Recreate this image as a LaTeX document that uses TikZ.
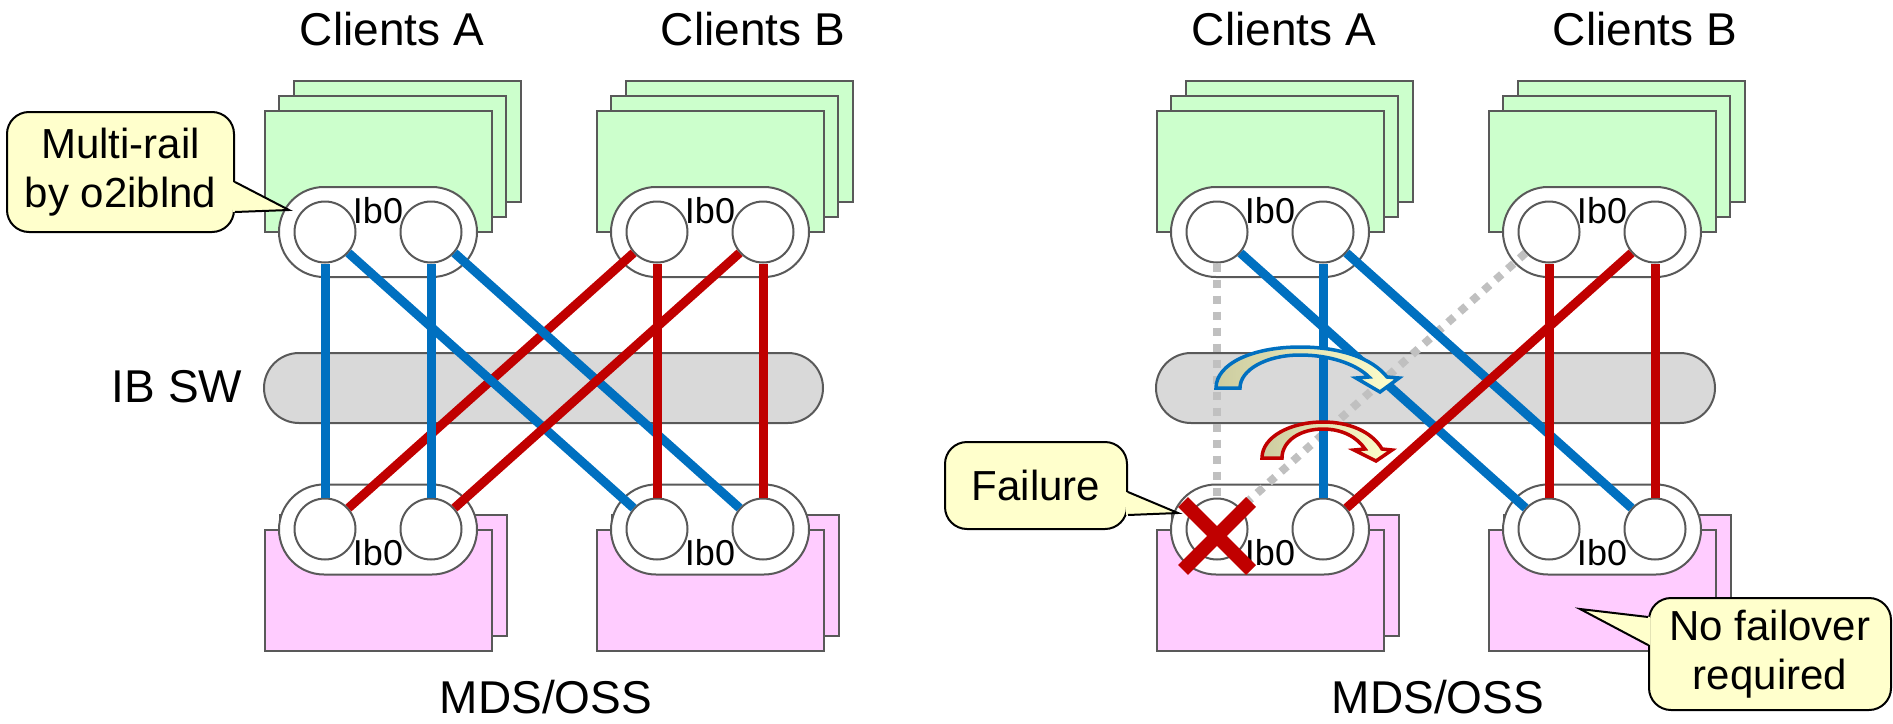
\documentclass[tikz,border=0pt]{standalone}
\usepackage{fontspec}
\setmainfont{Liberation Sans}
\definecolor{clientgreen}{HTML}{CCFFCC}
\definecolor{serverpink}{HTML}{FFCCFF}
\definecolor{edgegray}{HTML}{595959}
\definecolor{swgray}{HTML}{D9D9D9}
\definecolor{linkblue}{HTML}{0070C0}
\definecolor{linkred}{HTML}{C00000}
\definecolor{dotgray}{HTML}{C0C0C0}
\definecolor{noteyellow}{HTML}{FFFFCC}
\definecolor{arctan}{HTML}{CCCCA0}

\begin{document}
\begin{tikzpicture}[x=1pt, y=-1pt,
  box/.style={draw=edgegray, line width=2, minimum width=227, minimum height=121},
  client/.style={box, fill=clientgreen},
  server/.style={box, fill=serverpink},
  nic/.style={draw=edgegray, fill=white, line width=2, rounded corners=45, minimum width=198, minimum height=90},
  port/.style={circle, draw=edgegray, fill=white, line width=2, minimum size=61, inner sep=0},
  sw/.style={draw=edgegray, fill=swgray, line width=2, rounded corners=35, minimum width=559, minimum height=70},
  bl/.style={linkblue, line width=9},
  rl/.style={linkred, line width=9},
  dl/.style={dotgray, line width=8, dash pattern=on 8pt off 8pt},
  lbl/.style={font=\fontsize{46}{52}\selectfont, anchor=base},
  ib/.style={font=\fontsize{36}{40}\selectfont, anchor=base, inner sep=0},
  note/.style={draw=black, fill=noteyellow, line width=2, rounded corners=22, align=center, font=\fontsize{42}{49}\selectfont},
  arcarrow/.style={line width=3.5, left color=arctan, right color=noteyellow}
]
\useasboundingbox (0,0) rectangle (1893,723);

\foreach \p/\dx in {L/0,R/892}{
\begin{scope}[xshift=\dx]
\foreach \c/\cx in {A/378,B/710}{
  % client stack
  \node[client] (\p\c c3) at (\cx+29,141) {};
  \node[client] (\p\c c2) at (\cx+14.5,156) {};
  \node[client] (\p\c c1) at (\cx,171.5) {};
  \node[nic] (\p\c top) at (\cx,232) {};
  \node[port] (\p\c1) at (\cx-53,232) {};
  \node[port] (\p\c2) at (\cx+53,232) {};
  \node[ib] (\p\c toplbl) at (\cx,223) {Ib0};
  % server pair
  \node[server] (\p\c s2) at (\cx+15,575) {};
  \node[server] (\p\c s1) at (\cx,590) {};
  \node[nic] (\p\c bot) at (\cx,529.5) {};
  \node[port] (\p\c3) at (\cx-53,529) {};
  \node[port] (\p\c4) at (\cx+53,529) {};
  \node[ib] (\p\c botlbl) at (\cx,565) {Ib0};
}
\node[sw] (\p sw) at (543.5,388) {};
\node[lbl] (\p ca) at (392,45) {Clients A};
\node[lbl] (\p cb) at (753,45) {Clients B};
\node[lbl] (\p mds) at (546,713) {MDS/OSS};
\end{scope}
}
\node[lbl] (swlbl) at (177,402) {IB SW};

% links
\draw[dl] (RA1) -- (RA3);
\draw[dl] (RB1) -- (RA3);
\draw[bl] (LA1) -- (LA3);
\draw[rl] (LB1) -- (LA3);
\foreach \p in {L,R}{
  \draw[bl] (\p A1) -- (\p B3);
  \draw[bl] (\p A2) -- (\p A4);
  \draw[bl] (\p A2) -- (\p B4);
  \draw[rl] (\p B1) -- (\p B3);
  \draw[rl] (\p B2) -- (\p B4);
  \draw[rl] (\p B2) -- (\p A4);
}

% failover arrows
\draw[arcarrow, draw=linkblue] (1216,388) -- (1240,388) .. controls (1240,370) and (1266,355) .. (1300,355)
  .. controls (1330,355) and (1356,364) .. (1369,377) -- (1356,378) -- (1380,392) -- (1399,378) -- (1387,377)
  .. controls (1372,358) and (1340,347) .. (1300,347) .. controls (1252,347) and (1216,364) .. (1216,388) -- cycle;
\draw[arcarrow, draw=linkred] (1262,458) -- (1282,458) .. controls (1282,441) and (1300,429) .. (1323,429)
  .. controls (1342,429) and (1357,437) .. (1365,449) -- (1354,450) -- (1376,461) -- (1392,450) -- (1382,449)
  .. controls (1372,432) and (1350,422) .. (1323,422) .. controls (1290,422) and (1262,437) .. (1262,458) -- cycle;

% broken port
\draw[linkred, line width=14] ([shift={(-34,-27)}]RA3.center) -- ([shift={(34,41)}]RA3.center);
\draw[linkred, line width=14] ([shift={(-34,41)}]RA3.center) -- ([shift={(34,-27)}]RA3.center);

% callouts
\node[note, minimum width=227, minimum height=120] (multi) at (120.5,172) {Multi-rail\\by o2iblnd};
\coordinate (multitip) at (289,210);
\fill[noteyellow] ([xshift=-2]multi.east |- 0,182) -- (multitip) -- ([xshift=-2]multi.east |- 0,212) -- cycle;
\draw[line width=2] (multi.east |- 0,182) -- (multitip) -- (multi.east |- 0,212);

\node[note, minimum width=182, minimum height=87] (fail) at (1036,485.5) {Failure};
\coordinate (failtip) at (1178,513);
\fill[noteyellow] ([xshift=-2]fail.east |- 0,492) -- (failtip) -- ([xshift=-2]fail.east |- 0,515) -- cycle;
\draw[line width=2] (fail.east |- 0,492) -- (failtip) -- (fail.east |- 0,515);

\node[note, minimum width=242, minimum height=112] (nofo) at (1770,654) {No failover\\required};
\coordinate (nofotip) at (1580,609);
\fill[noteyellow] ([xshift=2]nofo.west |- 0,617) -- (nofotip) -- ([xshift=2]nofo.west |- 0,645) -- cycle;
\draw[line width=2] (nofo.west |- 0,617) -- (nofotip) -- (nofo.west |- 0,645);

\end{tikzpicture}
\end{document}
